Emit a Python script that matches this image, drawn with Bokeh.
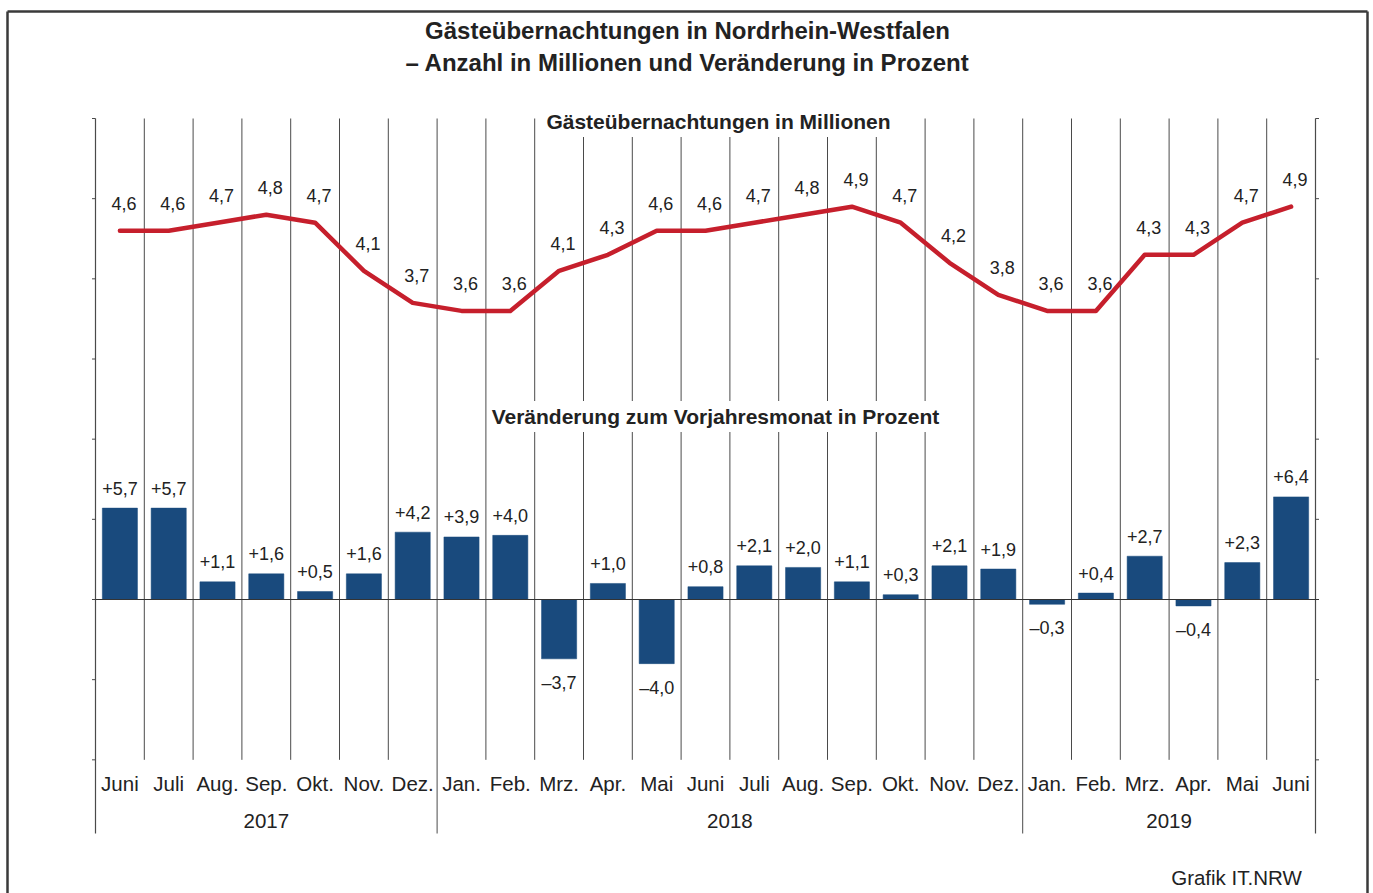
from bokeh.plotting import figure
from bokeh.models import Range1d, Label, ColumnDataSource
from bokeh.core.properties import value
from bokeh.embed import file_html
from bokeh.resources import INLINE

# ---------------- data ----------------
months = ["Juni", "Juli", "Aug.", "Sep.", "Okt.", "Nov.", "Dez.",
          "Jan.", "Feb.", "Mrz.", "Apr.", "Mai", "Juni", "Juli", "Aug.", "Sep.", "Okt.", "Nov.", "Dez.",
          "Jan.", "Feb.", "Mrz.", "Apr.", "Mai", "Juni"]
years = ["2017", "2018", "2019"]
months_per_year = [7, 12, 6]
overnight_mio = [4.6, 4.6, 4.7, 4.8, 4.7, 4.1, 3.7,
                 3.6, 3.6, 4.1, 4.3, 4.6, 4.6, 4.7, 4.8, 4.9, 4.7, 4.2, 3.8,
                 3.6, 3.6, 4.3, 4.3, 4.7, 4.9]
change_pct = [5.7, 5.7, 1.1, 1.6, 0.5, 1.6, 4.2,
              3.9, 4.0, -3.7, 1.0, -4.0, 0.8, 2.1, 2.0, 1.1, 0.3, 2.1, 1.9,
              -0.3, 0.4, 2.7, -0.4, 2.3, 6.4]
pct_ticks = [-10, -5, 0, 5, 10, 15, 20, 25, 30]
pct_min, pct_max = -10, 30
mio_per_pct = 0.2   # 1 Mio. on the line axis equals 5 % on the bar axis

title1 = "Gästeübernachtungen in Nordrhein-Westfalen"
title2 = "– Anzahl in Millionen und Veränderung in Prozent"
sub_line = "Gästeübernachtungen in Millionen"
sub_bars = "Veränderung zum Vorjahresmonat in Prozent"
source_note = "Grafik IT.NRW"

# ---------------- layout ----------------
FIG_W, FIG_H = 1373, 893
PAGE = 0
X0_PX, MONTH_PX = 95.0, 48.8
Y0_PX, TOP_PX = 599.0, 118.0
PCT_PX = (Y0_PX - TOP_PX) / pct_max

def dx(px):
    return (px - X0_PX) / MONTH_PX

def dy(py):
    return (Y0_PX - py) / PCT_PX

FONT = "Liberation Sans"
TXT = "#222222"
RED = "#c61f2c"
BLUE = "#194a7d"
GRID = "#4a4a4a"

n = len(months)
centers = [i + 0.5 for i in range(n)]

p = figure(width=FIG_W, height=FIG_H, output_backend="svg", toolbar_location=None,
           x_axis_type=None, y_axis_type=None,
           x_range=Range1d(dx(PAGE), dx(PAGE + FIG_W)),
           y_range=Range1d(dy(PAGE + FIG_H), dy(PAGE)),
           min_border=0, min_border_left=0, min_border_right=0,
           min_border_top=0, min_border_bottom=0)
p.extra_y_ranges = {"mio": Range1d(dy(PAGE + FIG_H) * mio_per_pct, dy(PAGE) * mio_per_pct)}
p.outline_line_color = None
p.background_fill_color = "white"
p.border_fill_color = "white"

bottom_axis = dy(833)

# outer frame of the graphic
p.segment(x0=[dx(7), dx(7), dx(1367)], y0=[dy(11), dy(11), dy(11)],
          x1=[dx(1367), dx(7), dx(1367)], y1=[dy(11), dy(910), dy(910)],
          line_color="#3a3a3a", line_width=2.5)

# month separators
seps = list(range(1, n))
year_bounds = []
acc = 0
for m in months_per_year[:-1]:
    acc += m
    year_bounds.append(acc)
sep_month = [s for s in seps if s not in year_bounds]
p.segment(x0=sep_month, y0=pct_min, x1=sep_month, y1=pct_max, line_color=GRID, line_width=1)
p.segment(x0=year_bounds, y0=bottom_axis, x1=year_bounds, y1=pct_max, line_color=GRID, line_width=1)

# left and right axis lines with ticks
p.segment(x0=[0, n], y0=bottom_axis, x1=[0, n], y1=pct_max, line_color=GRID, line_width=1.2)
tick_len = 3.5 / MONTH_PX
p.segment(x0=[-tick_len] * len(pct_ticks), y0=pct_ticks, x1=[0] * len(pct_ticks), y1=pct_ticks,
          line_color=GRID, line_width=1)
p.segment(x0=[n] * len(pct_ticks), y0=pct_ticks, x1=[n + tick_len] * len(pct_ticks), y1=pct_ticks,
          line_color=GRID, line_width=1)

# bars
bar_src = ColumnDataSource(dict(x=centers, top=change_pct))
p.vbar(x="x", top="top", bottom=0, width=0.72, source=bar_src,
       fill_color=BLUE, line_color=BLUE, line_width=0.5)

# zero line
p.segment(x0=[0], y0=[0], x1=[n + tick_len], y1=[0], line_color="#333333", line_width=1.2)

# red line (million overnight stays)
p.line(x=centers, y=overnight_mio, y_range_name="mio", line_color=RED, line_width=4.5,
       line_join="round", line_cap="round")

# value labels
def de(v, sign=False):
    s = f"{v:+.1f}" if sign else f"{v:.1f}"
    return s.replace(".", ",").replace("-", "–")

line_lab = ColumnDataSource(dict(
    x=[c + 4 / MONTH_PX for c in centers],
    y=[v + 27 / (PCT_PX / mio_per_pct) for v in overnight_mio],
    t=[de(v) for v in overnight_mio]))
p.text(x="x", y="y", text="t", source=line_lab, y_range_name="mio",
       text_font=value(FONT), text_font_size="18px", text_color=TXT,
       text_align="center", text_baseline="middle")

bar_lab = ColumnDataSource(dict(
    x=centers,
    y=[v + 20 / PCT_PX if v >= 0 else v - 24 / PCT_PX for v in change_pct],
    t=[de(v, sign=True) for v in change_pct]))
p.text(x="x", y="y", text="t", source=bar_lab,
       text_font=value(FONT), text_font_size="18px", text_color=TXT,
       text_align="center", text_baseline="middle")

# month and year labels
p.text(x=centers, y=[dy(783)] * n, text=months,
       text_font=value(FONT), text_font_size="20.5px", text_color=TXT,
       text_align="center", text_baseline="middle")
starts = [0] + year_bounds
ends = year_bounds + [n]
p.text(x=[(a + b) / 2 for a, b in zip(starts, ends)], y=[dy(820)] * len(years), text=years,
       text_font=value(FONT), text_font_size="20.5px", text_color=TXT,
       text_align="center", text_baseline="middle")

# titles / subtitles / source
for txt, px, py, size, bold, bg in [
        (title1, 687, 30, "24px", True, None),
        (title2, 687, 62, "24px", True, None),
        (sub_line, 718, 121, "21px", True, "white"),
        (sub_bars, 715, 416, "21px", True, "white"),
        (source_note, 1236, 877, "20.5px", False, None)]:
    lab = Label(x=dx(px), y=dy(py), text=txt, text_font=FONT, text_font_size=size,
                text_font_style="bold" if bold else "normal", text_color=TXT,
                text_align="center", text_baseline="middle")
    if bg:
        lab.background_fill_color = bg
        lab.padding = 4
    p.add_layout(lab)

open("out.html", "w").write(file_html(p, INLINE))
